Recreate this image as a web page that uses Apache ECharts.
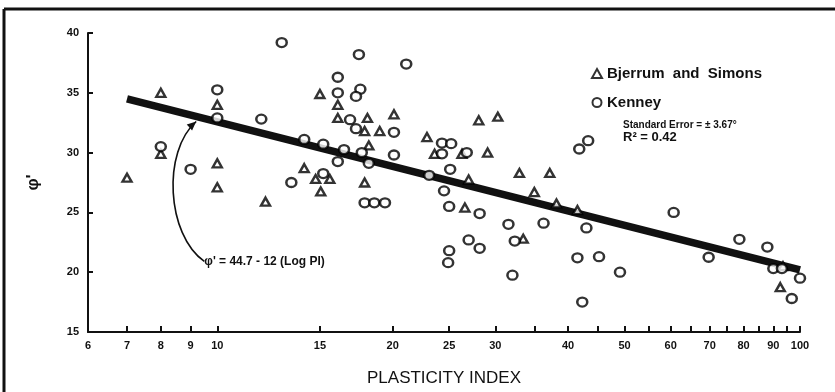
<!DOCTYPE html>
<html>
<head>
<meta charset="utf-8">
<script src="https://cdn.jsdelivr.net/npm/echarts@6/dist/echarts.min.js"></script>
<style>
  html, body { margin: 0; padding: 0; background: #fff; }
  #main { width: 835px; height: 392px; }
</style>
</head>
<body>
<div id="main"></div>
<script>
// tick labels of the log axis
var xLabels = [6, 7, 8, 9, 10, 15, 20, 25, 30, 40, 50, 60, 70, 80, 90, 100];
var xTicks = [6, 7, 8, 9, 10, 15, 20, 25, 30, 35, 40, 45, 50, 55, 60, 65, 70, 75, 80, 85, 90, 95, 100];

// Bjerrum and Simons (triangles)
var bjerrum = [
  [7, 27.9], [8, 35.0], [8, 29.9], [10, 34.0], [10, 29.1], [10, 27.1], [12.1, 25.9],
  [14.1, 28.7], [15, 34.9], [14.75, 27.8], [15.6, 27.8], [15.05, 26.75], [16.1, 34.0],
  [16.1, 32.9], [18.1, 32.9], [17.9, 31.8], [19.0, 31.8], [20.1, 33.2], [18.2, 30.6],
  [17.9, 27.5], [22.9, 31.3], [23.6, 29.9], [26.3, 29.9], [29.1, 30.0], [28.1, 32.7],
  [30.3, 33.0], [33.0, 28.3], [37.2, 28.3], [27.0, 27.75], [35.0, 26.7], [38.2, 25.75],
  [41.5, 25.2], [26.6, 25.4], [33.5, 22.8], [93.5, 20.5], [92.5, 18.75]
];

// Kenney (circles)
var kenney = [
  [8, 30.5], [9, 28.6], [10, 35.25], [10, 32.9], [11.9, 32.8], [12.9, 39.2], [13.4, 27.5],
  [14.1, 31.1], [15.2, 30.7], [15.2, 28.25], [16.1, 29.25], [16.5, 30.25], [16.1, 36.3],
  [16.1, 35.0], [16.9, 32.75], [17.3, 32.0], [17.5, 38.2], [17.6, 35.3], [17.3, 34.7],
  [17.7, 30.0], [18.2, 29.1], [20.1, 31.7], [20.1, 29.8], [21.1, 37.4], [17.9, 25.8],
  [18.6, 25.8], [19.4, 25.8], [23.1, 28.1], [24.3, 30.8], [25.2, 30.75], [24.3, 29.9],
  [26.8, 30.0], [25.1, 28.6], [24.5, 26.8], [25.0, 25.5], [28.2, 24.9], [31.6, 24.0],
  [36.3, 24.1], [43.0, 23.7], [32.4, 22.6], [27.0, 22.7], [28.2, 22.0], [25.0, 21.8],
  [24.9, 20.8], [32.1, 19.75], [41.5, 21.2], [45.2, 21.3], [49.1, 20.0], [42.3, 17.5],
  [41.8, 30.3], [43.3, 31.0], [60.7, 25.0], [69.7, 21.25], [78.7, 22.75], [87.9, 22.1],
  [90.0, 20.3], [93.1, 20.3], [100, 19.5], [96.8, 17.8]
];

// fitted line  phi' = 44.7 - 12 (log PI), ends
var fitLine = [[7, 34.5], [100, 20.2]];

// annotation arrow: label end -> line (data coords)
var arrowFrom = [9.5, 20.9];
var arrowTo = [9.2, 32.6];

var myChart = echarts.init(document.getElementById('main'));
var font = 'Liberation Sans';

var markerStyle = {
  color: '#fff',
  borderColor: '#000',
  borderWidth: 2.4
};

myChart.setOption({
  animation: false,
  backgroundColor: '#fff',
  grid: { left: 88, right: 35, top: 33, bottom: 59 },
  legend: {
    orient: 'vertical',
    left: 586,
    top: 61,
    itemGap: 14,
    itemWidth: 10,
    itemHeight: 9,
    textStyle: { fontFamily: font, fontSize: 15, color: '#111', fontWeight: 'bold' },
    data: ['Bjerrum  and  Simons', 'Kenney']
  },
  xAxis: {
    type: 'log',
    logBase: 10,
    min: 6,
    max: 100,
    name: 'PLASTICITY INDEX',
    nameLocation: 'middle',
    nameGap: 38,
    nameTextStyle: { fontFamily: font, fontSize: 17, color: '#111' },
    axisLine: { lineStyle: { color: '#111', width: 2 } },
    axisTick: { inside: true, length: 6, customValues: xTicks, lineStyle: { color: '#111', width: 2 } },
    axisLabel: {
      customValues: xLabels,
      margin: 8,
      fontFamily: font, fontSize: 11, fontWeight: 'bold', color: '#111',
      formatter: function (v) { return String(Math.round(v)); }
    },
    splitLine: { show: false },
    minorTick: { show: false }
  },
  yAxis: {
    type: 'value',
    min: 15,
    max: 40,
    interval: 5,
    name: 'φ\'',
    nameLocation: 'middle',
    nameGap: 46,
    nameRotate: 90,
    nameTextStyle: { fontFamily: font, fontSize: 17, fontWeight: 'bold', color: '#111' },
    axisLine: { show: true, lineStyle: { color: '#111', width: 2 } },
    axisTick: { show: true, inside: true, length: 5, lineStyle: { color: '#111', width: 2 } },
    axisLabel: { margin: 9, fontFamily: font, fontSize: 11, fontWeight: 'bold', color: '#111' },
    splitLine: { show: false }
  },
  series: [
    {
      name: 'fit',
      type: 'line',
      data: fitLine,
      symbol: 'none',
      z: 1,
      lineStyle: { color: '#111', width: 7.5 }
    },
    {
      name: 'Bjerrum  and  Simons',
      type: 'scatter',
      symbol: 'triangle',
      symbolSize: [9, 8],
      data: bjerrum,
      z: 3,
      itemStyle: markerStyle
    },
    {
      name: 'Kenney',
      type: 'scatter',
      symbol: 'circle',
      symbolSize: [10, 9],
      data: kenney,
      z: 3,
      itemStyle: markerStyle
    }
  ]
});

//=================================================================================
//frame, stats text, equation label and the curved arrow
function drawExtras() {
  var p0 = myChart.convertToPixel({ gridIndex: 0 }, arrowFrom);
  var p3 = myChart.convertToPixel({ gridIndex: 0 }, arrowTo);
  var p1 = [p0[0] - 38, p0[1] - 27];
  var p2 = [p3[0] - 34, p3[1] + 30];
  var dx = p3[0] - p2[0], dy = p3[1] - p2[1];
  var len = Math.sqrt(dx * dx + dy * dy);
  dx /= len; dy /= len;
  var head = [
    [p3[0], p3[1]],
    [p3[0] - dx * 9 - dy * 4, p3[1] - dy * 9 + dx * 4],
    [p3[0] - dx * 9 + dy * 4, p3[1] - dy * 9 - dx * 4]
  ];

  myChart.setOption({
    graphic: [
      { type: 'line', shape: { x1: 4, y1: 9, x2: 835, y2: 9 }, style: { stroke: '#111', lineWidth: 3 } },
      { type: 'line', shape: { x1: 4, y1: 9, x2: 4, y2: 392 }, style: { stroke: '#111', lineWidth: 3 } },
      {
        type: 'text', left: 623, top: 120,
        style: { text: 'Standard Error = ± 3.67°', fontFamily: font, fontSize: 10, fontWeight: 'bold', fill: '#111' }
      },
      {
        type: 'text', left: 623, top: 131,
        style: { text: 'R² = 0.42', fontFamily: font, fontSize: 13, fontWeight: 'bold', fill: '#111' }
      },
      {
        type: 'text', x: p0[0], y: p0[1],
        style: {
          text: 'φ\' = 44.7 - 12 (Log PI)', fontFamily: font, fontSize: 12, fontWeight: 'bold',
          fill: '#111', verticalAlign: 'middle', align: 'left'
        }
      },
      {
        type: 'bezierCurve',
        shape: { x1: p0[0], y1: p0[1], cpx1: p1[0], cpy1: p1[1], cpx2: p2[0], cpy2: p2[1], x2: p3[0], y2: p3[1] },
        style: { stroke: '#111', lineWidth: 1.6, fill: null }
      },
      { type: 'polygon', shape: { points: head }, style: { fill: '#111' } }
    ]
  });
}
drawExtras();
</script>
</body>
</html>
